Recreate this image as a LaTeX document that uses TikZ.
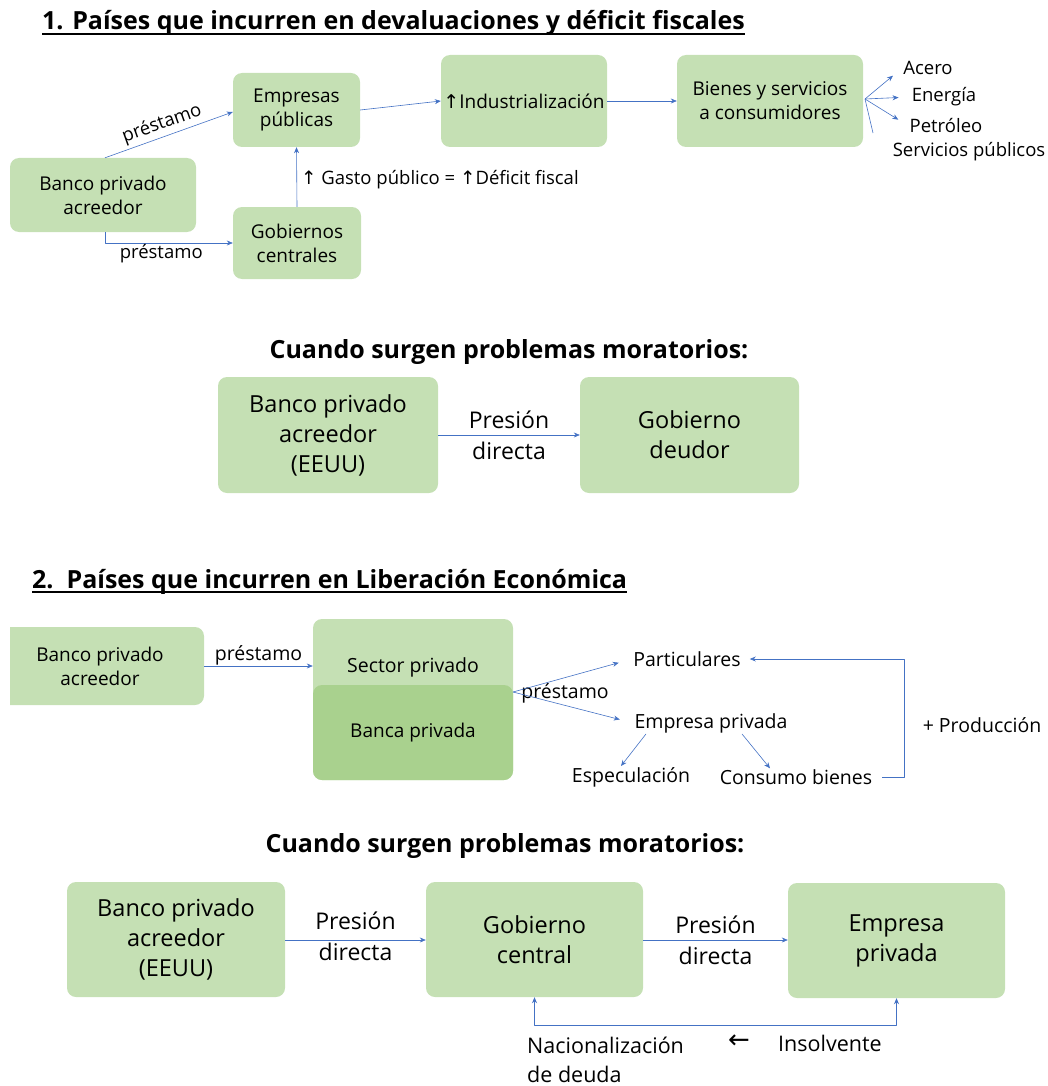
\documentclass[tikz,border=0pt]{standalone}
\usepackage{fontspec}
\setmainfont{Open Sans}
\newfontfamily\arrowfont{DejaVu Sans}
\usetikzlibrary{arrows.meta,positioning}
\definecolor{verdeclaro}{HTML}{C5E0B4}
\definecolor{verdeoscuro}{HTML}{A9D18E}
\definecolor{azul}{HTML}{4472C4}
\newcommand{\flecha}[1]{{\arrowfont #1}}
\begin{document}
\begin{tikzpicture}[x=1pt,y=-1pt, line join=round, >={Stealth[length=6pt,width=5pt]},
    caja/.style={fill=verdeclaro, rounded corners=9pt, align=center, inner sep=0pt,
      font=\fontsize{19}{24}\selectfont},
    cajag/.style={caja, font=\fontsize{23.5}{30}\selectfont},
    txt/.style={font=\fontsize{18.5}{24}\selectfont, align=center, inner sep=1pt},
    txtm/.style={txt, font=\fontsize{19.5}{24}\selectfont},
    txtg/.style={font=\fontsize{23}{31}\selectfont, align=center, inner sep=1pt},
    titulo/.style={font=\fontsize{25}{30}\selectfont\bfseries, inner sep=0pt},
    flechaazul/.style={->, draw=azul, line width=0.6pt}]
  \useasboundingbox (0,0) rectangle (1048,1086);

  % 1. devaluaciones y deficit
  \node[titulo, anchor=base west] (tit1) at (42,30) {1. Países que incurren en devaluaciones y déficit fiscales};
  \draw[line width=1.6pt] ([yshift=-4pt]tit1.base west) -- ([yshift=-4pt]tit1.base east);
  \node[caja, minimum width=186pt, minimum height=74pt] (banco1) at (103,195) {Banco privado\\acreedor};
  \node[caja, minimum width=127pt, minimum height=74pt] (empub) at (296.5,110) {Empresas\\públicas};
  \node[caja, minimum width=128pt, minimum height=72pt] (gobcen) at (297,243) {Gobiernos\\centrales};
  \node[caja, minimum width=166pt, minimum height=92pt] (indus) at (524,101) {\flecha{↑}Industrialización};
  \node[caja, minimum width=186pt, minimum height=92pt] (bienes) at (770,101) {Bienes y servicios\\a consumidores};
  \node[txt] (acero) at (928,68) {Acero};
  \node[txt] (energia) at (944,97) {Energía};
  \node[txt] (petroleo) at (946,126) {Petróleo};
  \node[txt] (servicios) at (969,152) {Servicios públicos};
  \coordinate (abanico) at (865,99);

  \draw[flechaazul] ([xshift=2pt]banco1.north) -- node[txt, sloped, above, pos=0.48, yshift=2pt]{préstamo} ([yshift=-2pt]empub.west);
  \draw[flechaazul] ([xshift=2pt]banco1.south) |- node[txt, below, pos=0.72]{préstamo} (gobcen.west);
  \draw[flechaazul] (gobcen.north) -- node[txt, anchor=west, xshift=3pt, pos=0.45]{\flecha{↑} Gasto público = \flecha{↑}Déficit fiscal} (empub.south);
  \draw[flechaazul] (empub.east) -- (indus.west);
  \draw[flechaazul] (indus.east) -- (bienes.west);
  \foreach \n in {acero,energia,petroleo}
    \draw[flechaazul, shorten >=12pt] (abanico) -- (\n.west);
  \draw[azul, line width=0.6pt] (abanico) -- ++(8,34);

  % problemas moratorios
  \node[titulo, anchor=base] (tit2) at (509,358) {Cuando surgen problemas moratorios:};
  \node[cajag, minimum width=220pt, minimum height=116pt] (banco2) at (328,435) {Banco privado\\acreedor\\(EEUU)};
  \node[cajag, minimum width=219pt, minimum height=116pt] (gobdeu) at (689.5,435) {Gobierno\\deudor};
  \draw[flechaazul] (banco2) -- node[txtg]{Presión\\directa} (gobdeu);

  % 2. liberacion economica
  \node[titulo, anchor=base west] (tit3) at (32,588) {2.\ \ Países que incurren en Liberación Económica};
  \draw[line width=1.6pt] ([yshift=-4pt]tit3.base west) -- ([yshift=-4pt]tit3.base east);
  \begin{scope}
    \clip (10,600) rectangle (300,720);
    \node[caja, minimum width=208pt, minimum height=78pt] (banco3) at (100,666) {Banco privado\\acreedor};
  \end{scope}
  \node[caja, minimum width=200pt, minimum height=161pt] (sector) at (413,699.5) {};
  \node[caja, fill=verdeoscuro, minimum width=200pt, minimum height=95pt] (banca) at (413,732.5) {Banca privada};
  \node[txtm] (sectlbl) at (413,667) {Sector privado};
  \draw[flechaazul] (banco3.east) -- node[txtm, above]{préstamo} (banco3.east -| sector.west);

  \coordinate (reparto) at (513,692);
  \node[txtm] (partic) at (687,659) {Particulares};
  \node[txtm] (empriv) at (711,723) {Empresa privada};
  \node[txtm] (especul) at (631,777) {Especulación};
  \node[txtm] (consumo) at (796,777) {Consumo bienes};
  \node[txtm] (produc) at (982,725) {+ Producción};
  \node[txtm] at (565,693) {préstamo};
  \draw[flechaazul, shorten >=14pt] (reparto) -- (partic.west);
  \draw[flechaazul, shorten >=14pt] (reparto) -- (empriv.west);
  \draw[flechaazul] ([xshift=-65pt]empriv.south) -- ([xshift=-10pt]especul.north);
  \draw[flechaazul] ([xshift=31pt]empriv.south) -- ([xshift=-26pt]consumo.north);
  \draw[flechaazul, shorten <=9pt, shorten >=8pt] (consumo.east) -- ++(31,0) |- (partic.east);

  % problemas moratorios
  \node[titulo, anchor=base] (tit4) at (505,852) {Cuando surgen problemas moratorios:};
  \node[cajag, minimum width=218pt, minimum height=115pt] (banco4) at (176,939.5) {Banco privado\\acreedor\\(EEUU)};
  \node[cajag, minimum width=217pt, minimum height=115pt] (gobc) at (534.5,939.5) {Gobierno\\central};
  \node[cajag, minimum width=217pt, minimum height=115pt] (empp) at (896.5,940.5) {Empresa\\privada};
  \draw[flechaazul] (banco4.east |- 0,940) -- node[txtg, yshift=4pt]{Presión\\directa} (gobc.west |- 0,940);
  \draw[flechaazul] (gobc.east |- 0,940) -- node[txtg]{Presión\\directa} (empp.west |- 0,940);
  \draw[flechaazul, <->] (gobc.south) -- ++(0,28) -| (empp.south);
  \node[txtg, align=left, anchor=west, font=\fontsize{21.5}{29}\selectfont] (nacional) at (526,1060) {Nacionalización\\de deuda};
  \node[txtg, font=\fontsize{21.5}{29}\selectfont] (insolv) at (830,1043) {Insolvente};
  \node[txtg, font=\fontsize{26}{28}\selectfont] (izq) at (739,1042) {\flecha{←}};
\end{tikzpicture}
\end{document}
